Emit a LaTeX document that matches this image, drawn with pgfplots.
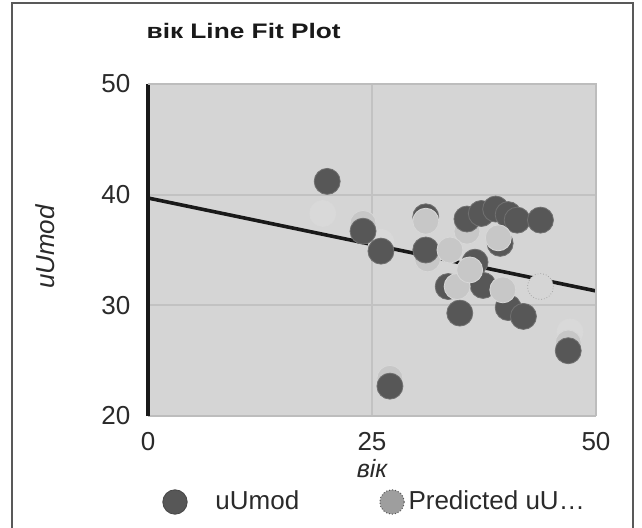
\documentclass[border=0pt]{standalone}
\usepackage{fontspec}
\setmainfont{Liberation Sans}
\newfontfamily\titlefont[FakeStretch=1.25]{Liberation Sans}
\usepackage{pgfplots}
\pgfplotsset{compat=1.18}

\definecolor{bgc}{HTML}{D5D5D5}
\definecolor{gridc}{HTML}{C2C2C2}
\definecolor{bordc}{HTML}{BDBDBD}
\definecolor{darkm}{HTML}{575757}
\definecolor{lightm}{HTML}{C7C7C7}
\definecolor{palem}{HTML}{D9D9D9}
\definecolor{legm}{HTML}{9E9E9E}
\definecolor{txtc}{HTML}{2A2A2A}

\begin{document}
\begin{tikzpicture}
\useasboundingbox (-74pt,-55.5pt) rectangle (247pt,208pt);
\fill[white] (-74pt,-55.5pt) rectangle (247pt,208pt);
\draw[color=black!65, line width=0.6pt] (-68pt,-60pt) -- (-68pt,206.5pt) -- (242.5pt,206.5pt) -- (242.5pt,-60pt);

\begin{axis}[
  at={(0,0)}, anchor=south west,
  scale only axis,
  width=224pt, height=166pt,
  xmin=0, xmax=50, ymin=20, ymax=50,
  xtick={0,25,50}, ytick={20,30,40,50},
  axis lines=left,
  x axis line style={-, draw=bordc, line width=0.8pt},
  y axis line style={-, draw=black!90, line width=2pt},
  axis background/.style={fill=bgc},
  grid=major,
  major grid style={draw=gridc, line width=1pt},
  tick style={draw=none},
  /pgf/number format/assume math mode=true,
  every tick label/.append style={font=\fontsize{13}{13}\selectfont, text=txtc},
  yticklabel style={inner sep=0pt, anchor=east, xshift=-6.5pt},
  xticklabel style={inner sep=0pt, anchor=north, yshift=-6pt},
  xlabel={\itshape вік},
  xlabel style={at={(axis description cs:0.5,-0.157)}, anchor=center, font=\fontsize{12.5}{12.5}\selectfont, text=txtc},
  ylabel={\itshape uUmod},
  ylabel style={at={(axis description cs:-0.23,0.509)}, anchor=center, rotate=0, font=\fontsize{13}{13}\selectfont, text=txtc},
  title={\titlefont\bfseries вік Line Fit Plot},
  every axis title/.style={at={(axis description cs:-0.004,1.161)}, anchor=west, inner sep=0pt, font=\fontsize{10.5}{10.5}\selectfont, text=black!90},
  legend columns=2,
  legend cell align=left,
  legend style={at={(axis description cs:0.03125,-0.259)}, anchor=west, draw=none, fill=none,
    inner sep=0pt, nodes={inner sep=0pt}, font=\fontsize{13}{13}\selectfont, text=txtc,
    /tikz/every even column/.append style={column sep=40pt}},
  after end axis/.code={\draw[bordc, line width=0.8pt] (rel axis cs:0,1) -- (rel axis cs:1,1) -- (rel axis cs:1,0);},
]

% fitted line
\addplot[forget plot, black!90, line width=1.8pt] coordinates {(0,39.7) (50,31.3)};

% predicted values drawn behind the observed ones
\addplot[forget plot, only marks, mark=*, mark size=6.5pt, mark options={fill=palem, draw=palem}]
coordinates {(19.5,38.3) (47.1,27.6) (26.0,35.7)};
\addplot[forget plot, only marks, mark=*, mark size=6.5pt, mark options={fill=lightm, draw=lightm!70!white, line width=0.4pt}]
coordinates {(24.0,37.4) (27.0,23.4) (31.2,34.2) (35.6,36.7) (46.9,26.6)};

% observed uUmod
\addplot[forget plot, only marks, mark=*, mark size=6.5pt, mark options={fill=darkm, draw=darkm!85!white, line width=0.4pt}]
coordinates {
(20.0,41.2) (24.0,36.7) (26.0,34.9) (27.0,22.7) (31.0,35.0) (31.0,38.0)
(33.5,31.7) (34.8,29.3) (35.6,37.8) (36.5,33.9) (37.2,38.3) (37.4,31.8)
(38.8,38.7) (39.3,35.6) (40.2,38.2) (40.2,29.8) (41.2,37.7) (41.9,29.0)
(43.8,37.7) (46.9,25.9)
};

% predicted values drawn on top
\addplot[forget plot, only marks, mark=*, mark size=6.5pt, mark options={fill=lightm, draw=lightm!70!white, line width=0.4pt}]
coordinates {(31.0,37.6) (33.7,35.0) (34.5,31.7) (35.9,33.2) (39.1,36.1) (39.6,31.4)};
\addplot[forget plot, only marks, mark=*, mark size=6.5pt, mark options={fill=bgc, draw=black!35, densely dotted, line width=0.4pt}]
coordinates {(43.8,31.7)};

\addlegendimage{legend image code/.code={\path[draw=none] (0pt,0pt) -- (26.5pt,0pt); \filldraw[fill=darkm, draw=darkm!80!black, solid, line width=0.4pt] (6.25pt,0pt) circle (6.1pt);}}
\addlegendentry{uUmod}
\addlegendimage{legend image code/.code={\path[draw=none] (0pt,0pt) -- (14.5pt,0pt); \filldraw[fill=legm, draw=darkm, densely dotted, line width=0.5pt] (6.25pt,0pt) circle (6.1pt);}}
\addlegendentry{Predicted uU…}
\end{axis}
\end{tikzpicture}
\end{document}
